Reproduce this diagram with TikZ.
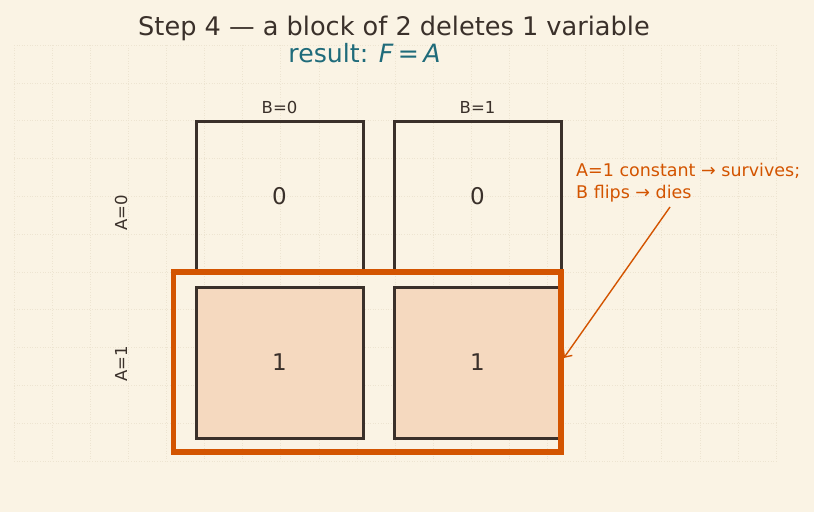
\documentclass[tikz,border=0pt]{standalone}
\usepackage{fontspec}
\setmainfont{DejaVu Sans}
\usetikzlibrary{positioning, fit, arrows.meta}

\definecolor{paper}{HTML}{FAF3E4}
\definecolor{gridc}{HTML}{EDE4D1}
\definecolor{ink}{HTML}{3A302A}
\definecolor{teal}{HTML}{1F6B7A}
\definecolor{rust}{HTML}{D35400}
\definecolor{peach}{HTML}{F5D9BF}

\begin{document}
\begin{tikzpicture}[x=1pt,y=-1pt,
    cell/.style={draw=ink, line width=3pt, inner sep=0pt,
      minimum width=167pt, minimum height=151pt,
      font=\fontsize{23}{26}\selectfont, text=ink},
    hot/.style={cell, fill=peach},
    varlab/.style={font=\fontsize{16.5}{18}\selectfont, text=ink, inner sep=0pt},
    groupbox/.style={draw=rust, line width=5.5pt, inner sep=0pt},
    note/.style={font=\fontsize{17.5}{21.5}\selectfont, text=rust,
      align=left, inner sep=0pt},
    pointer/.style={draw=rust, line width=1.4pt,
      -{Straight Barb[length=6pt,width=11pt]}},
    gridline/.style={draw=gridc, line width=0.6pt, dotted}]
  \fill[paper] (0,0) rectangle (814,512);
  \useasboundingbox (0,0) rectangle (814,512);
  % faint grid
  \foreach \gx in {0,...,20}
    \draw[gridline] ({14+38.1*\gx},45) -- ({14+38.1*\gx},461);
  \foreach \gy in {0,...,11}
    \draw[gridline] (14,{45+37.8*\gy}) -- (776,{45+37.8*\gy});

  \node[font=\fontsize{25.6}{30}\selectfont, text=ink] (ttl) at (394,28)
    {Step 4 — a block of 2 deletes 1 variable};
  \node[font=\fontsize{25.2}{30}\selectfont, text=teal] (res) at (364.5,53.5)
    {result: \textit{F}\,=\,\textit{A}};

  % karnaugh cells
  \node[cell] (c00) at (279.5,196.5) {0};
  \node[cell] (c01) at (477.5,196.5) {0};
  \node[hot]  (c10) at (279.5,362.5) {1};
  \node[hot]  (c11) at (477.5,362.5) {1};

  \node[varlab, above=6pt of c00] (b0) {B=0};
  \node[varlab, above=6pt of c01] (b1) {B=1};
  \node[varlab, rotate=90] (a0) at (121,213) {A=0};
  \node[varlab, rotate=90] (a1) at (121,364) {A=1};

  % the block of two
  \coordinate (g1) at (173.5,272);
  \coordinate (g2) at (561,452);
  \node[groupbox, fit=(g1)(g2)] (grp) {};

  \node[note, anchor=north west] (txt) at (576,163)
    {A=1 constant → survives;\\B flips → dies};
  \coordinate (tail) at (670,207);
  \draw[pointer] (tail) -- ([yshift=4pt]grp.east);
\end{tikzpicture}
\end{document}
